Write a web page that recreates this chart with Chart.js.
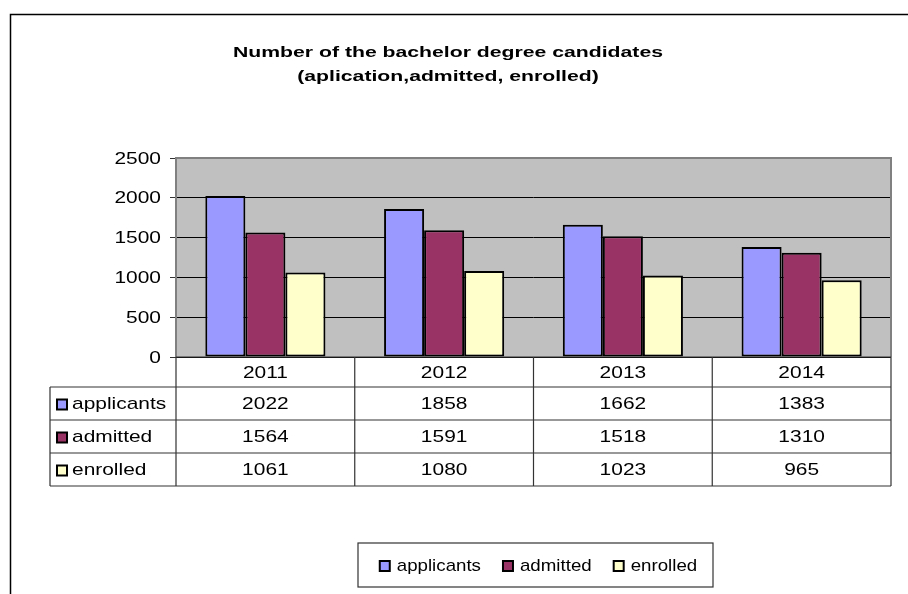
<!DOCTYPE html>
<html>
<head>
<meta charset="utf-8">
<script src="https://cdn.jsdelivr.net/npm/chart.js@4.4.1/dist/chart.umd.min.js"></script>
<style>
  html, body { margin: 0; padding: 0; background: #fff; }
  canvas { display: block; }
</style>
</head>
<body>
<canvas id="mycanvas" width="908" height="594"></canvas>
<script>
// chart data
var years = ['2011', '2012', '2013', '2014'];
var applicants = [2022, 1858, 1662, 1383];
var admitted = [1564, 1591, 1518, 1310];
var enrolled = [1061, 1080, 1023, 965];
var seriesNames = ['applicants', 'admitted', 'enrolled'];
var seriesColors = ['#9999FF', '#993366', '#FFFFCC'];
var yTicks = [0, 500, 1000, 1500, 2000, 2500];
var titleLines = ['Number of the bachelor degree candidates', '(aplication,admitted, enrolled)'];

var FONT = '17px "Liberation Sans", Arial, sans-serif';
var SX = 1.23; // the picture is stretched sideways a bit
var LEGEND_SX = 1.1;

function drawText(ctx, text, x, y, align, font, sx) {
	ctx.save();
	ctx.font = font;
	ctx.textBaseline = 'middle';
	ctx.textAlign = 'left';
	var w = ctx.measureText(text).width * sx;
	var left = x;
	if (align == 'center') left = x - w / 2;
	if (align == 'right') left = x - w;
	ctx.translate(left, y);
	ctx.scale(sx, 1);
	ctx.fillStyle = '#000';
	ctx.fillText(text, 0, 0);
	ctx.restore();
	return w;
}

function swatch(ctx, x, y, color) {
	ctx.fillStyle = color;
	ctx.fillRect(x, y - 5, 10, 10);
	ctx.strokeStyle = '#000';
	ctx.lineWidth = 2;
	ctx.strokeRect(x, y - 5, 10, 10);
}

var excelPlugin = {
	id: 'excelLook',
	beforeDraw: function(chart) {
		var ctx = chart.ctx, a = chart.chartArea;
		ctx.save();
		ctx.fillStyle = '#fff';
		ctx.fillRect(0, 0, chart.width, chart.height);
		// outer frame (clipped on right and bottom)
		ctx.strokeStyle = '#000';
		ctx.lineWidth = 1.5;
		ctx.beginPath();
		ctx.moveTo(908, 14.5);
		ctx.lineTo(10.5, 14.5);
		ctx.lineTo(10.5, 594);
		ctx.stroke();
		// plot area background
		ctx.fillStyle = '#C0C0C0';
		ctx.fillRect(a.left, a.top, a.right - a.left, a.bottom - a.top);
		ctx.restore();
	},
	afterDraw: function(chart) {
		var ctx = chart.ctx, a = chart.chartArea;
		var xs = chart.scales.x, ys = chart.scales.y;
		ctx.save();

		// plot area border
		ctx.strokeStyle = '#808080';
		ctx.lineWidth = 2;
		ctx.beginPath();
		ctx.moveTo(a.left, a.bottom);
		ctx.lineTo(a.left, a.top);
		ctx.lineTo(a.right, a.top);
		ctx.lineTo(a.right, a.bottom);
		ctx.stroke();

		// title
		var tfont = 'bold 15px "Liberation Sans", Arial, sans-serif';
		ctx.font = tfont;
		var tsx = 430 / ctx.measureText(titleLines[0]).width;
		drawText(ctx, titleLines[0], 448, 53, 'center', tfont, tsx);
		drawText(ctx, titleLines[1], 448, 77, 'center', tfont, tsx);

		// y tick labels
		for (var i = 0; i < yTicks.length; i++) {
			drawText(ctx, String(yTicks[i]), 161, ys.getPixelForValue(yTicks[i]) + 1, 'right', FONT, SX);
		}

		// data table
		var catW = (a.right - a.left) / years.length;
		var rows = [a.bottom, a.bottom + 30, a.bottom + 63, a.bottom + 96, a.bottom + 129];
		var tableLeft = 50;
		ctx.strokeStyle = '#333';
		ctx.lineWidth = 1.2;
		ctx.beginPath();
		ctx.moveTo(a.left, rows[0]);
		ctx.lineTo(a.right, rows[0]);
		for (var r = 1; r < rows.length; r++) {
			ctx.moveTo(tableLeft, rows[r]);
			ctx.lineTo(a.right, rows[r]);
		}
		for (var c = 0; c <= years.length; c++) {
			var x = a.left + c * catW;
			ctx.moveTo(x, rows[0]);
			ctx.lineTo(x, rows[4]);
		}
		ctx.moveTo(tableLeft, rows[1]);
		ctx.lineTo(tableLeft, rows[4]);
		ctx.stroke();

		for (var c = 0; c < years.length; c++) {
			drawText(ctx, years[c], xs.getPixelForValue(c), (rows[0] + rows[1]) / 2 + 1, 'center', FONT, SX);
		}
		var ds = chart.data.datasets;
		for (var s = 0; s < ds.length; s++) {
			var cy = (rows[s + 1] + rows[s + 2]) / 2 + 1;
			swatch(ctx, 57, cy, ds[s].backgroundColor);
			drawText(ctx, ds[s].label, 72, cy, 'left', FONT, SX);
			for (var c = 0; c < years.length; c++) {
				drawText(ctx, String(ds[s].data[c]), xs.getPixelForValue(c), cy, 'center', FONT, SX);
			}
		}

		// legend box
		ctx.strokeStyle = '#333';
		ctx.lineWidth = 1.2;
		ctx.strokeRect(358, 543, 355, 44);
		ctx.font = FONT;
		var widths = [], total = 0;
		for (var s = 0; s < ds.length; s++) {
			widths.push(ctx.measureText(ds[s].label).width * LEGEND_SX);
			total += 17 + widths[s];
		}
		total += 22 * (ds.length - 1);
		var lx = 538.5 - total / 2, ly = 566;
		for (var s = 0; s < ds.length; s++) {
			swatch(ctx, lx, ly, ds[s].backgroundColor);
			drawText(ctx, ds[s].label, lx + 17, ly, 'left', FONT, LEGEND_SX);
			lx += 17 + widths[s] + 22;
		}
		ctx.restore();
	}
};

var seriesData = [applicants, admitted, enrolled];
var datasets = [];
for (var i = 0; i < seriesNames.length; i++) {
	datasets.push({
		label: seriesNames[i],
		data: seriesData[i],
		backgroundColor: seriesColors[i],
		borderColor: '#000',
		borderWidth: 2,
		borderSkipped: false,
		categoryPercentage: 0.672,
		barPercentage: 1.0
	});
}

var ctx = document.getElementById('mycanvas');
var barGraph = new Chart(ctx, {
	type: 'bar',
	data: { labels: years, datasets: datasets },
	options: {
		responsive: false,
		animation: false,
		layout: { padding: { left: 0, top: 158, right: 17, bottom: 237 } },
		plugins: {
			legend: { display: false },
			title: { display: false },
			tooltip: { enabled: false }
		},
		scales: {
			x: { display: false },
			y: {
				min: 0,
				max: 2500,
				afterBuildTicks: function(scale) {
					scale.ticks = yTicks.map(function(v) { return { value: v }; });
				},
				afterFit: function(scale) { scale.width = 176; },
				ticks: { display: false },
				border: { display: false },
				grid: {
					color: '#000',
					lineWidth: 1,
					drawTicks: true,
					tickLength: 6,
					tickColor: '#333'
				}
			}
		}
	},
	plugins: [excelPlugin]
});
</script>
</body>
</html>
